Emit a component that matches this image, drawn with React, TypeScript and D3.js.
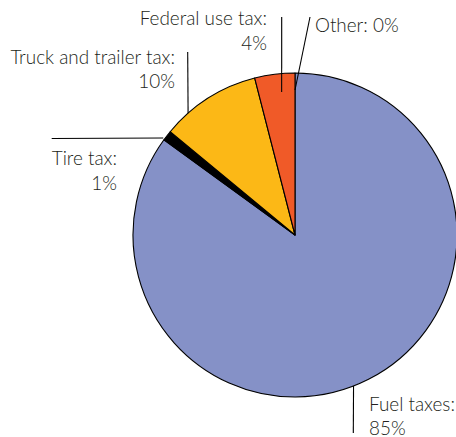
import React from "react";
import * as d3 from "d3";

const categories = ["Fuel taxes", "Tire tax", "Truck and trailer tax", "Federal use tax", "Other"];
const values = [85, 1, 10, 4, 0];
const valueLabels = ["85%", "1%", "10%", "4%", "0%"];
const colors = ["#8591c7", "#000000", "#fcb816", "#f05a28", "#8591c7"];

const W = 456;
const H = 437;
const cx = 295;
const cy = 235;
const R = 162;

type LabelCfg = {
  lines: string[];
  anchor: "start" | "end";
  x: number;
  y: number;
  lead: [number, number];
  frac: number;
  rk: number;
};

const labelLayout: LabelCfg[] = [
  { lines: [categories[0] + ":", valueLabels[0]], anchor: "start", x: 369, y: 410.5, lead: [353.3, 433], frac: 0.519, rk: 1.0 },
  { lines: [categories[1] + ":", valueLabels[1]], anchor: "end", x: 117, y: 165, lead: [51.7, 138.5], frac: 0.1, rk: 1.01 },
  { lines: [categories[2] + ":", valueLabels[2]], anchor: "end", x: 175, y: 63.5, lead: [187.7, 52], frac: 0.253, rk: 1.0 },
  { lines: [categories[3] + ":", valueLabels[3]], anchor: "end", x: 267, y: 25, lead: [281.7, 17], frac: 0.63, rk: 0.887 },
  { lines: [categories[4] + ": " + valueLabels[4]], anchor: "start", x: 315, y: 31.5, lead: [310, 17], frac: 0.5, rk: 0.895 },
];

export default function App() {
  const pie = d3.pie<number>().sort(null).startAngle(0).endAngle(2 * Math.PI);
  const arcs = pie(values);
  const arc = d3.arc<d3.PieArcDatum<number>>().innerRadius(0).outerRadius(R);

  return (
    <svg width={W} height={H} style={{ position: "absolute", left: 0, top: 0, background: "#fff" }}>
      <g transform={`translate(${cx},${cy})`}>
        {arcs.map((a, i) =>
          a.value > 0 ? (
            <path key={i} d={arc(a) || ""} fill={colors[i]} stroke="#000" strokeWidth={1.1} strokeLinejoin="round" />
          ) : null
        )}
      </g>
      {arcs.map((a, i) => {
        const cfg = labelLayout[i];
        const ang = a.startAngle + (a.endAngle - a.startAngle) * cfg.frac;
        const ex = cx + Math.sin(ang) * R * cfg.rk;
        const ey = cy - Math.cos(ang) * R * cfg.rk;
        return (
          <g key={"l" + i}>
            <line x1={cfg.lead[0]} y1={cfg.lead[1]} x2={ex} y2={ey} stroke="#000" strokeWidth={1.1} />
            <text
              x={cfg.x}
              y={cfg.y}
              textAnchor={cfg.anchor}
              fontFamily="Lato, sans-serif"
              fontWeight={300}
              fontSize={18.9}
              fill="#231f20"
            >
              {cfg.lines.map((t, j) => (
                <tspan key={j} x={cfg.x} dy={j === 0 ? 0 : 24.5}>
                  {t}
                </tspan>
              ))}
            </text>
          </g>
        );
      })}
    </svg>
  );
}
